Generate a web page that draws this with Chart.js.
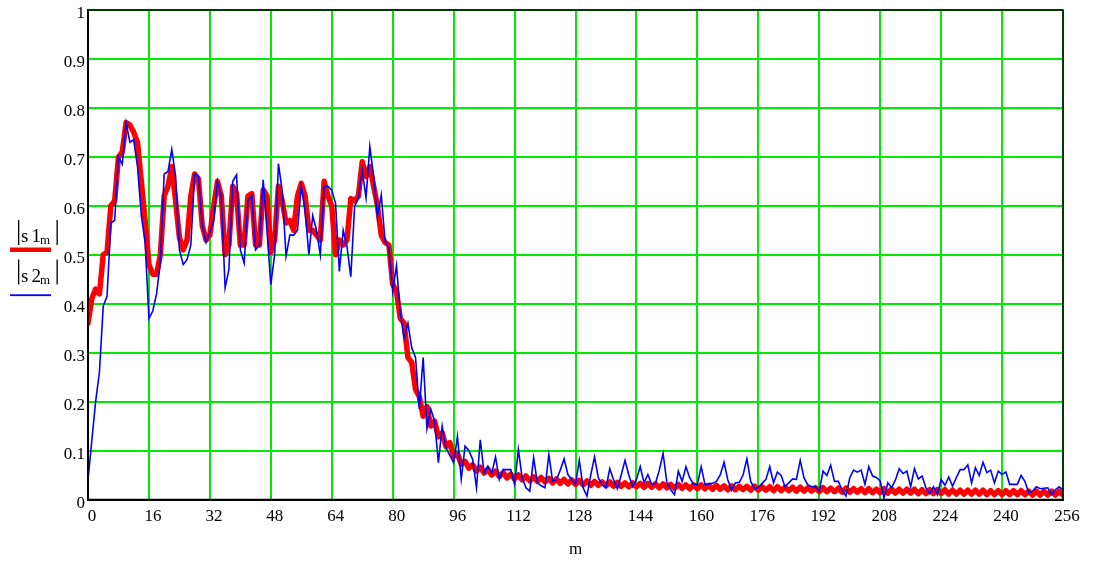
<!DOCTYPE html>
<html><head><meta charset="utf-8">
<script src="https://cdn.jsdelivr.net/npm/chart.js@4/dist/chart.umd.min.js"></script>
<style>html,body{margin:0;padding:0;background:#fff}#wrap{width:1093px;height:561px;position:relative}</style>
</head><body><div id="wrap"><canvas id="c" width="1093" height="561"></canvas></div>
<script>
// |s1_m| (red, thick)
const s1 = [
0.36,0.41,0.43,0.42,0.50,0.505,0.60,0.61,0.70,0.71,0.77,0.765,0.75,0.73,0.65,0.57,
0.48,0.46,0.46,0.50,0.62,0.64,0.68,0.61,0.535,0.51,0.53,0.62,0.665,0.655,0.56,0.53,
0.54,0.60,0.65,0.62,0.50,0.52,0.64,0.625,0.52,0.52,0.62,0.625,0.52,0.52,0.633,0.62,
0.505,0.53,0.64,0.61,0.565,0.57,0.55,0.62,0.646,0.62,0.55,0.55,0.54,0.53,0.65,0.62,
0.60,0.50,0.53,0.52,0.53,0.615,0.61,0.62,0.69,0.66,0.68,0.64,0.60,0.54,0.525,0.52,
0.44,0.425,0.37,0.36,0.29,0.28,0.225,0.21,0.17,0.19,0.15,0.16,0.128,0.136,0.108,0.116,
0.088,0.094,0.072,0.078,0.064,0.071,0.058,0.066,0.054,0.062,0.050,0.058,0.047,0.055,0.044,0.052,
0.042,0.050,0.040,0.048,0.038,0.046,0.037,0.045,0.036,0.043,0.034,0.042,0.033,0.041,0.032,0.040,
0.031,0.039,0.030,0.038,0.029,0.037,0.029,0.036,0.028,0.036,0.027,0.035,0.027,0.034,0.026,0.034,
0.026,0.033,0.025,0.033,0.025,0.032,0.024,0.032,0.024,0.031,0.023,0.031,0.023,0.030,0.022,0.030,
0.022,0.030,0.022,0.029,0.021,0.029,0.021,0.028,0.020,0.028,0.020,0.027,0.020,0.027,0.019,0.027,
0.019,0.026,0.019,0.026,0.018,0.026,0.018,0.025,0.018,0.025,0.017,0.025,0.017,0.024,0.017,0.024,
0.016,0.024,0.016,0.023,0.016,0.023,0.015,0.023,0.015,0.022,0.015,0.022,0.014,0.022,0.014,0.021,
0.014,0.022,0.013,0.021,0.013,0.021,0.013,0.021,0.013,0.021,0.012,0.020,0.012,0.020,0.012,0.020,
0.012,0.020,0.011,0.019,0.011,0.019,0.011,0.019,0.011,0.019,0.011,0.019,0.010,0.018,0.010,0.018,
0.010,0.018,0.010,0.018,0.010,0.018,0.010,0.017,0.009,0.017,0.009,0.017,0.009,0.017,0.009,0.017,
0.009];
// |s2_m| (blue, thin)
const s2 = [
0.04,0.12,0.20,0.26,0.395,0.415,0.565,0.57,0.70,0.685,0.77,0.73,0.735,0.68,0.58,0.525,
0.37,0.385,0.42,0.485,0.665,0.67,0.715,0.66,0.51,0.48,0.49,0.52,0.665,0.66,0.56,0.525,
0.545,0.57,0.65,0.62,0.432,0.47,0.65,0.663,0.51,0.483,0.61,0.62,0.51,0.52,0.653,0.55,
0.439,0.50,0.686,0.63,0.497,0.54,0.54,0.55,0.64,0.59,0.50,0.58,0.55,0.50,0.64,0.64,
0.632,0.605,0.466,0.55,0.517,0.455,0.598,0.616,0.673,0.616,0.721,0.66,0.578,0.622,0.527,0.514,
0.425,0.478,0.38,0.33,0.36,0.31,0.29,0.185,0.29,0.145,0.185,0.16,0.075,0.15,0.105,0.09,
0.075,0.129,0.041,0.109,0.10,0.082,0.024,0.122,0.054,0.068,0.054,0.087,0.041,0.061,0.061,0.061,
0.031,0.102,0.044,0.024,0.017,0.085,0.034,0.028,0.024,0.092,0.037,0.041,0.06,0.083,0.051,0.041,
0.031,0.08,0.024,0.007,0.05,0.087,0.044,0.03,0.024,0.063,0.04,0.022,0.05,0.08,0.05,0.026,
0.041,0.067,0.034,0.051,0.031,0.033,0.06,0.094,0.034,0.02,0.01,0.058,0.037,0.067,0.044,0.031,
0.031,0.067,0.031,0.032,0.033,0.037,0.05,0.076,0.04,0.019,0.034,0.035,0.05,0.083,0.037,0.022,
0.025,0.033,0.041,0.067,0.034,0.056,0.049,0.026,0.034,0.042,0.041,0.08,0.044,0.03,0.026,0.026,
0.017,0.058,0.049,0.07,0.037,0.037,0.02,0.007,0.044,0.06,0.056,0.06,0.031,0.067,0.048,0.045,
0.038,0.003,0.034,0.024,0.04,0.063,0.053,0.058,0.026,0.063,0.042,0.048,0.024,0.012,0.026,0.010,
0.041,0.029,0.046,0.027,0.045,0.061,0.061,0.071,0.034,0.065,0.049,0.076,0.055,0.06,0.034,0.058,
0.051,0.056,0.031,0.031,0.031,0.049,0.037,0.014,0.017,0.026,0.022,0.023,0.024,0.010,0.02,0.026,
0.02];
const xTicks = [0,16,32,48,64,80,96,112,128,144,160,176,192,208,224,240,256];
const yTicks = [0,0.1,0.2,0.3,0.4,0.5,0.6,0.7,0.8,0.9,1];
const yTickLabels = ['0','0.1','0.2','0.3','0.4','0.5','0.6','0.7','0.8','0.9','1'];
const xTitle = 'm';

const SERIF = '"Liberation Serif", "Times New Roman", serif';
const GRID = 'rgb(0,235,0)';

function drawLabel(ctx, digit, x, base) {
  ctx.fillStyle = '#000';
  ctx.font = '19px ' + SERIF;
  ctx.textBaseline = 'alphabetic';
  ctx.textAlign = 'left';
  ctx.fillRect(x, base - 22, 1.3, 25);
  ctx.fillText('s', x + 3, base);
  ctx.fillText(digit, x + 13.5, base);
  ctx.font = '13px ' + SERIF;
  ctx.fillText('m', x + 22, base + 2);
  ctx.fillRect(x + 38.5, base - 22, 1.3, 25);
}

const extras = {
  id: 'extras',
  afterDraw(chart) {
    const ctx = chart.ctx, a = chart.chartArea;
    ctx.save();
    ctx.strokeStyle = '#000';
    ctx.lineWidth = 1.5;
    ctx.strokeRect(a.left, a.top, a.right - a.left, a.bottom - a.top);
    drawLabel(ctx, '1', 18, 242);
    ctx.fillStyle = 'rgb(255,0,0)';
    ctx.fillRect(10, 247.5, 41, 4.5);
    drawLabel(ctx, '2', 18, 281.5);
    ctx.fillStyle = 'rgb(0,0,255)';
    ctx.fillRect(10, 294.3, 41, 1.8);
    ctx.restore();
  }
};

function noPad(s) { s.paddingTop = 0; s.paddingBottom = 0; s.paddingLeft = 0; s.paddingRight = 0; }

new Chart(document.getElementById('c'), {
  type: 'line',
  data: {
    datasets: [
      { label: '|s1m|', data: s1.map((v, i) => ({x: i, y: v})), borderColor: 'rgb(255,0,0)', borderWidth: 5.5, order: 1, pointRadius: 0, tension: 0, borderJoinStyle: 'round', borderCapStyle: 'round' },
      { label: '|s2m|', data: s2.map((v, i) => ({x: i, y: v})), borderColor: 'rgb(0,0,255)', borderWidth: 1.6, order: 0, pointRadius: 0, tension: 0 }
    ]
  },
  options: {
    responsive: false,
    animation: false,
    events: [],
    layout: { padding: { left: 0, right: 30, top: 10, bottom: 0 } },
    plugins: { legend: { display: false }, tooltip: { enabled: false } },
    scales: {
      x: {
        type: 'linear', min: 0, max: 256,
        afterBuildTicks: s => { s.ticks = xTicks.map(v => ({ value: v })); },
        afterFit: s => { s.height = 61.5; noPad(s); },
        grid: { color: GRID, lineWidth: 2, drawTicks: false },
        border: { display: true, color: '#000', width: 2 },
        ticks: { font: { family: SERIF, size: 17 }, color: '#000', padding: 7, labelOffset: 4, maxRotation: 0, autoSkip: false, callback: v => String(v) },
        title: { display: true, text: xTitle, font: { family: SERIF, size: 17 }, color: '#000', padding: { top: 0, bottom: 1 } }
      },
      y: {
        type: 'linear', min: 0, max: 1,
        afterBuildTicks: s => { s.ticks = yTicks.map(v => ({ value: v })); },
        afterFit: s => { s.width = 88; noPad(s); },
        grid: { color: GRID, lineWidth: 2, drawTicks: false },
        border: { display: true, color: '#000', width: 2 },
        ticks: { font: { family: SERIF, size: 17 }, color: '#000', padding: 3, labelOffset: 4, autoSkip: false,
          callback: v => { const k = yTicks.indexOf(v); return k >= 0 ? yTickLabels[k] : ''; } }
      }
    }
  },
  plugins: [extras]
});
</script></body></html>
